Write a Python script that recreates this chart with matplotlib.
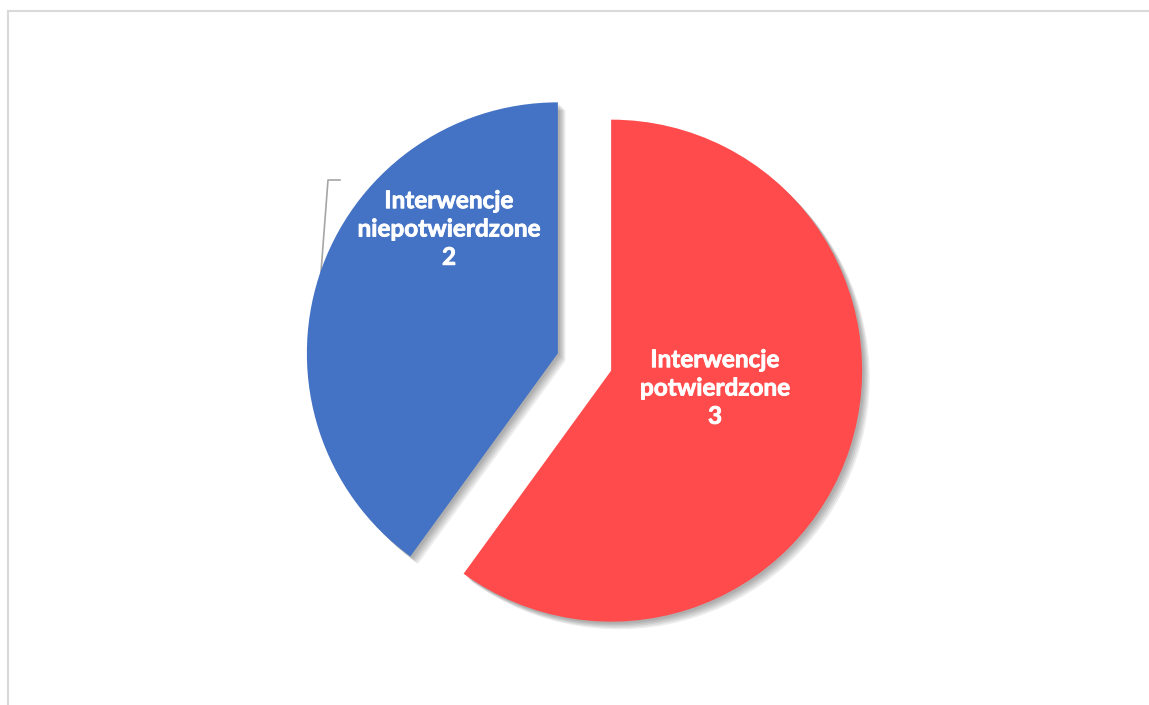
import matplotlib
matplotlib.use("Agg")
import matplotlib.pyplot as plt
import matplotlib.patheffects as pe
from matplotlib.lines import Line2D

categories = ["Interwencje\npotwierdzone", "Interwencje\nniepotwierdzone"]
values = [3, 2]
colors = ["#FF4B4B", "#4472C4"]

W, H = 1149, 705
fig = plt.figure(figsize=(W / 100, H / 100), dpi=100)
ax = fig.add_axes([0, 0, 1, 1])

cx, cy, r = 584.5, H - 362, 251
wedges, _ = ax.pie(values, colors=colors, startangle=90, counterclock=False,
                   center=(cx, cy), radius=r, explode=[28, 28],
                   frame=True)
ax.set_xlim(0, W)
ax.set_ylim(0, H)
ax.axis("off")
shadow = [pe.SimplePatchShadow(offset=(d, -d), shadow_rgbFace="black", alpha=0.07)
          for d in (1.5, 2.5, 3.5, 4.5, 5.5)]
for w in wedges:
    w.set_path_effects(shadow + [pe.Normal()])

# leader line for the blue label
ax.add_line(Line2D([340, 328, 321], [H - 180, H - 180, H - 272], color="#A6A6A6", lw=1.2, zorder=0.5))

label_pos = [(715, H - 388), (449, H - 229)]
for cat, v, (x, y) in zip(categories, values, label_pos):
    ax.text(x, y, f"{cat}\n{v}", ha="center", va="center", color="white",
            fontsize=17.5, fontweight="bold", family=["Lato", "DejaVu Sans"],
            linespacing=1.28, zorder=5,
            path_effects=[pe.withStroke(linewidth=0.6, foreground="white")])

# chart border
fig.add_artist(Line2D([8 / W, 1], [1 - 11 / H, 1 - 11 / H], transform=fig.transFigure, color="#D9D9D9", lw=1.5))
fig.add_artist(Line2D([8 / W, 8 / W], [0, 1 - 11 / H], transform=fig.transFigure, color="#D9D9D9", lw=1.5))

fig.savefig("out.png", dpi=100)
